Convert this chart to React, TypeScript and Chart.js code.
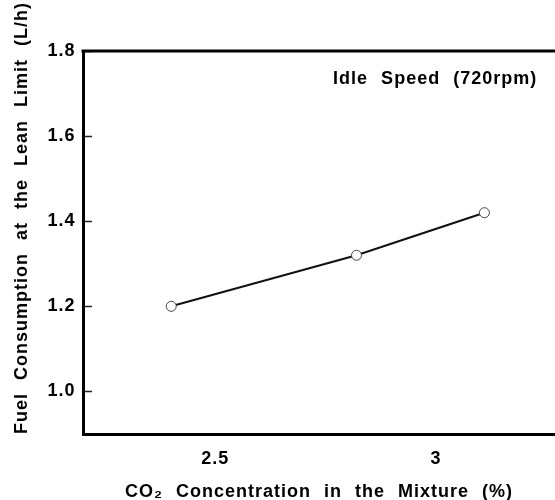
import React, { useEffect, useRef } from 'react';
import { Chart, registerables } from 'chart.js';

Chart.register(...registerables);

// ---- data ----
const co2Values = [2.4, 2.82, 3.11];
const fuelValues = [1.2, 1.32, 1.42];
const xTickValues = [2.5, 3];
const xTickLabels = ['2.5', '3'];
const yTickValues = [1.0, 1.2, 1.4, 1.6, 1.8];
const yTickLabels = ['1.0', '1.2', '1.4', '1.6', '1.8'];
const xRange = [2.2, 3.27];
const yRange = [0.9, 1.8];
const xTitle = 'CO₂ Concentration in the Mixture (%)';
const yTitle = 'Fuel Consumption at the Lean Limit (L/h)';
const annotationText = 'Idle Speed (720rpm)';
const annotationAt = [2.767, 1.734];

const FONT_FAMILY = '"Liberation Sans", Arial, Helvetica, sans-serif';

function applySpacing(ctx: any) {
  try {
    ctx.letterSpacing = '1px';
    ctx.wordSpacing = '7px';
  } catch (e) {
    /* ignore */
  }
}

const spacingPlugin = {
  id: 'spacing',
  beforeInit(chart: any) {
    applySpacing(chart.ctx);
  },
  beforeUpdate(chart: any) {
    applySpacing(chart.ctx);
  },
  beforeDraw(chart: any) {
    applySpacing(chart.ctx);
  },
};

const framePlugin = {
  id: 'frame',
  beforeDatasetsDraw(chart: any) {
    const { ctx, chartArea } = chart;
    ctx.save();
    ctx.strokeStyle = '#000';
    ctx.lineWidth = 3;
    ctx.beginPath();
    ctx.moveTo(chartArea.left - 1.5, chartArea.top);
    ctx.lineTo(chartArea.right, chartArea.top);
    ctx.stroke();
    ctx.restore();
  },
};

const annotationPlugin = {
  id: 'annotationText',
  afterDatasetsDraw(chart: any) {
    const { ctx } = chart;
    const x = chart.scales.x.getPixelForValue(annotationAt[0]);
    const y = chart.scales.y.getPixelForValue(annotationAt[1]);
    ctx.save();
    ctx.font = `bold 18px ${FONT_FAMILY}`;
    ctx.fillStyle = '#000';
    ctx.textAlign = 'left';
    ctx.textBaseline = 'middle';
    ctx.fillText(annotationText, x, y);
    ctx.restore();
  },
};

export default function App() {
  const canvasRef = useRef<HTMLCanvasElement | null>(null);

  useEffect(() => {
    const canvas = canvasRef.current;
    if (!canvas) return;
    const tickFont = { family: FONT_FAMILY, size: 18, weight: 'bold' as const };
    const titleFont = { family: FONT_FAMILY, size: 18, weight: 'bold' as const };

    const chart = new Chart(canvas, {
      type: 'line',
      data: {
        datasets: [
          {
            data: co2Values.map((x, i) => ({ x, y: fuelValues[i] })),
            borderColor: '#111',
            borderWidth: 2,
            pointRadius: 5,
            pointBackgroundColor: '#fff',
            pointBorderColor: '#444',
            pointBorderWidth: 1,
            tension: 0,
            fill: false,
          },
        ],
      },
      options: {
        responsive: false,
        animation: false,
        events: [],
        layout: { autoPadding: false, padding: { top: 51, right: 0, bottom: 0, left: 0 } },
        plugins: {
          legend: { display: false },
          tooltip: { enabled: false },
        },
        scales: {
          x: {
            type: 'linear',
            min: xRange[0],
            max: xRange[1],
            afterBuildTicks: (s: any) => {
              s.ticks = xTickValues.map((v) => ({ value: v }));
            },
            afterFit: (s: any) => {
              s.height = 66;
              s.paddingLeft = 0;
              s.paddingRight = 0;
            },
            ticks: {
              callback: (_v: any, i: number) => xTickLabels[i] ?? '',
              padding: 14,
              color: '#000',
              font: tickFont,
              maxRotation: 0,
              autoSkip: false,
            },
            grid: { drawOnChartArea: false, drawTicks: false },
            border: { display: true, color: '#000', width: 3 },
            title: {
              display: true,
              text: xTitle,
              color: '#000',
              font: titleFont,
              padding: { top: 0, bottom: -3 },
            },
          },
          y: {
            type: 'linear',
            min: yRange[0],
            max: yRange[1],
            afterBuildTicks: (s: any) => {
              s.ticks = yTickValues.map((v) => ({ value: v }));
            },
            afterFit: (s: any) => {
              s.width = 83;
              s.paddingTop = 0;
              s.paddingBottom = 0;
            },
            ticks: {
              callback: (_v: any, i: number) => yTickLabels[i] ?? '',
              padding: 16.5,
              color: '#000',
              font: tickFont,
              autoSkip: false,
            },
            grid: {
              drawOnChartArea: false,
              drawTicks: true,
              tickLength: -9,
              tickWidth: 1.5,
              tickColor: '#222',
            },
            border: { display: true, color: '#000', width: 3 },
            title: {
              display: true,
              text: yTitle,
              align: 'start',
              color: '#000',
              font: titleFont,
              padding: { top: 11, bottom: 0 },
            },
          },
        },
      } as any,
      plugins: [spacingPlugin, framePlugin, annotationPlugin],
    });

    return () => {
      chart.destroy();
    };
  }, []);

  return (
    <div style={{ position: 'fixed', left: 0, top: 0, width: 555, height: 500, background: '#fff' }}>
      <canvas ref={canvasRef} width={555} height={500} style={{ display: 'block' }} />
    </div>
  );
}
